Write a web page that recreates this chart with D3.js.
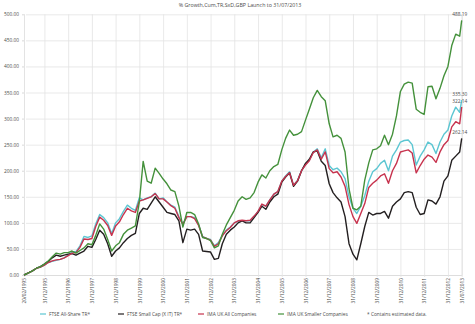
<!DOCTYPE html>
<html>
<head>
<meta charset="utf-8">
<script src="https://cdn.jsdelivr.net/npm/d3@7"></script>
<style>
  body { margin: 0; background: #fff; }
  svg { display: block; }
  text { font-family: "Open Sans", "Liberation Sans", sans-serif; fill: #4a4a4a; }
</style>
</head>
<body>
<svg id="chart" width="475" height="324"></svg>
<script>
// Observation dates (roughly every two months, launch to 31/07/2013)
const dates = [
  "1995-02-20","1995-04-30","1995-06-30","1995-08-31","1995-10-31","1995-12-31",
  "1996-02-28","1996-04-30","1996-06-30","1996-08-31","1996-10-31","1996-12-31",
  "1997-02-28","1997-04-30","1997-06-30","1997-08-31","1997-10-31","1997-12-31",
  "1998-02-28","1998-04-30","1998-06-30","1998-08-31","1998-10-31","1998-12-31",
  "1999-02-28","1999-04-30","1999-06-30","1999-08-31","1999-10-31","1999-12-31",
  "2000-02-28","2000-04-30","2000-06-30","2000-08-31","2000-10-31","2000-12-31",
  "2001-02-28","2001-04-30","2001-06-30","2001-08-31","2001-10-31","2001-12-31",
  "2002-02-28","2002-04-30","2002-06-30","2002-08-31","2002-10-31","2002-12-31",
  "2003-02-28","2003-04-30","2003-06-30","2003-08-31","2003-10-31","2003-12-31",
  "2004-02-28","2004-04-30","2004-06-30","2004-08-31","2004-10-31","2004-12-31",
  "2005-02-28","2005-04-30","2005-06-30","2005-08-31","2005-10-31","2005-12-31",
  "2006-02-28","2006-04-30","2006-06-30","2006-08-31","2006-10-31","2006-12-31",
  "2007-02-28","2007-04-30","2007-06-30","2007-08-31","2007-10-31","2007-12-31",
  "2008-02-28","2008-04-30","2008-06-30","2008-08-31","2008-10-31","2008-12-31",
  "2009-02-28","2009-04-30","2009-06-30","2009-08-31","2009-10-31","2009-12-31",
  "2010-02-28","2010-04-30","2010-06-30","2010-08-31","2010-10-31","2010-12-31",
  "2011-02-28","2011-04-30","2011-06-30","2011-08-31","2011-10-31","2011-12-31",
  "2012-02-28","2012-04-30","2012-06-30","2012-08-31","2012-10-31","2012-12-31",
  "2013-02-28","2013-04-30","2013-06-30","2013-07-31"
];

// Cumulative % growth, total return, GBP
const ftseAllShare = [
  0,4,8,13,15,19,
  24,26,28,30,33,38,
  44,45,56,74,72,75,
  98,116,110,100,79,100,
  108,122,134,128,124,148,
  144,148,150,157,146,148,
  140,134,130,112,98,112,
  112,110,96,74,70,68,
  56,62,76,86,92,100,
  103,104,104,104,112,122,
  135,132,144,155,160,180,
  190,198,172,182,200,212,
  220,236,242,225,242,210,
  202,205,198,185,150,128,
  118,132,152,180,198,204,
  214,220,200,228,240,255,
  258,259,250,211,228,240,
  255,250,233,255,270,278,
  305,322,312,335.30
];
const ftseSmallCap = [
  0,4,8,13,16,21,
  26,33,38,36,38,40,
  41,38,42,46,55,53,
  68,86,78,60,36,46,
  52,62,70,76,80,118,
  128,126,138,150,140,130,
  120,118,116,104,62,88,
  86,88,78,46,45,44,
  30,32,60,78,86,92,
  100,104,100,100,110,120,
  132,126,140,150,155,178,
  188,196,170,180,200,214,
  222,236,238,218,210,175,
  158,148,140,112,60,40,
  29,60,93,120,115,118,
  118,122,109,132,140,146,
  158,160,158,130,116,118,
  144,142,136,150,180,190,
  220,228,236,262.14
];
const imaAllCompanies = [
  0,4,8,13,15,19,
  24,27,29,30,33,37,
  42,43,53,69,68,70,
  93,111,105,95,76,94,
  102,116,128,123,120,142,
  144,147,150,156,146,146,
  140,133,128,110,97,112,
  112,108,95,73,70,67,
  55,60,75,85,91,100,
  104,105,104,105,113,122,
  136,132,144,155,160,180,
  189,196,172,181,200,211,
  219,235,240,222,236,204,
  196,198,188,170,135,112,
  99,118,137,168,176,182,
  190,194,176,200,214,236,
  238,240,234,196,210,222,
  230,226,216,236,250,258,
  284,294,290,322.14
];
const imaSmallerCompanies = [
  0,4,8,13,16,21,
  27,35,42,40,43,43,
  46,42,47,52,60,58,
  76,98,88,68,46,56,
  62,78,86,90,94,140,
  218,180,176,205,195,184,
  175,163,160,132,92,120,
  120,116,98,72,70,66,
  52,56,78,96,110,124,
  142,150,145,148,158,178,
  192,186,200,208,212,240,
  262,278,268,270,275,297,
  318,340,354,342,334,290,
  265,268,262,236,165,128,
  125,132,182,215,240,242,
  248,268,250,270,305,352,
  366,370,368,318,312,308,
  361,362,338,358,382,400,
  440,462,458,488.19
];

const seriesNames = ["FTSE All-Share TR*", "FTSE Small Cap (X IT) TR*", "IMA UK All Companies", "IMA UK Smaller Companies"];
const seriesColors = ["#5cc6d2", "#231f20", "#c7334e", "#44913b"];
const seriesValues = [ftseAllShare, ftseSmallCap, imaAllCompanies, imaSmallerCompanies];

const xTickDates = [
  "1995-02-20","1995-12-31","1996-12-31","1997-12-31","1998-12-31","1999-12-31",
  "2000-12-31","2001-12-31","2002-12-31","2003-12-31","2004-12-31","2005-12-31",
  "2006-12-31","2007-12-31","2008-12-31","2009-12-31","2010-12-31","2011-12-31",
  "2012-12-31","2013-07-31"
];
const yTicks = [0, 50, 100, 150, 200, 250, 300, 350, 400, 450, 500];
const titleText = "% Growth,Cum,TR,SxD,GBP Launch to 31/07/2013";
const footnote = "* Contains estimated data.";

const parse = d3.timeParse("%Y-%m-%d");
const fmtDate = d3.timeFormat("%d/%m/%Y");
const fmtVal = d3.format(".2f");
const when = dates.map(parse);

const svg = d3.select("#chart");
const m = { left: 24, right: 461.7, top: 14.3, bottom: 275 };

const x = d3.scaleTime()
  .domain([parse(xTickDates[0]), parse(xTickDates[xTickDates.length - 1])])
  .range([m.left, m.right]);
const y = d3.scaleLinear().domain([0, 500]).range([m.bottom, m.top]);

// title
svg.append("text")
  .attr("x", 240).attr("y", 6.5)
  .attr("text-anchor", "middle")
  .style("font-size", "5.3px")
  .text(titleText);

// horizontal grid + y labels
const yAxis = svg.append("g")
  .attr("transform", `translate(${m.left},0)`)
  .call(d3.axisLeft(y).tickValues(yTicks).tickFormat(fmtVal)
    .tickSize(-(m.right - m.left)).tickPadding(5));
yAxis.select(".domain").remove();
yAxis.selectAll(".tick line").attr("stroke", "#e3e3e3").attr("stroke-width", 0.8)
  .attr("x1", 2);
yAxis.selectAll(".tick line").clone().attr("x1", -2).attr("x2", 0).attr("stroke", "#cfcfcf");
yAxis.selectAll("text").style("font-size", "4.8px").attr("fill", "#4a4a4a");

// vertical grid + rotated date labels
const xAxis = svg.append("g")
  .attr("transform", `translate(0,${m.bottom})`)
  .call(d3.axisBottom(x).tickValues(xTickDates.map(parse)).tickFormat(fmtDate)
    .tickSize(-(m.bottom - m.top)).tickPadding(3));
xAxis.select(".domain").attr("stroke", "#d9d9d9").attr("stroke-width", 0.8);
xAxis.selectAll(".tick line").attr("stroke", "#e3e3e3").attr("stroke-width", 0.8).attr("y1", 2);
xAxis.selectAll("text")
  .style("font-size", "4.8px").attr("fill", "#4a4a4a")
  .attr("text-anchor", "end")
  .attr("transform", "rotate(-90)")
  .attr("x", -3).attr("y", 0).attr("dy", "0.35em");

// series lines
const line = d3.line()
  .x((d, i) => x(when[i]))
  .y(d => y(d));

seriesValues.forEach((vals, k) => {
  svg.append("path")
    .datum(vals)
    .attr("fill", "none")
    .attr("stroke", seriesColors[k])
    .attr("stroke-width", 1.4)
    .attr("stroke-linejoin", "round")
    .attr("d", line);
});

// end-of-period value labels
const last = when.length - 1;
seriesValues.forEach((vals, k) => {
  svg.append("text")
    .attr("x", x(when[last]) - 2)
    .attr("y", y(vals[last]) - 4)
    .attr("text-anchor", "middle")
    .style("font-size", "4.8px")
    .text(fmtVal(vals[last]));
});

// legend
const legendY = 314;
const legendX = [40, 118, 198, 278];
seriesNames.forEach((name, k) => {
  svg.append("line")
    .attr("x1", legendX[k]).attr("x2", legendX[k] + 6)
    .attr("y1", legendY).attr("y2", legendY)
    .attr("stroke", seriesColors[k]).attr("stroke-width", 1.2);
  svg.append("text")
    .attr("x", legendX[k] + 9).attr("y", legendY).attr("dy", "0.35em")
    .style("font-size", "4.8px")
    .text(name);
});
svg.append("text")
  .attr("x", 367).attr("y", legendY).attr("dy", "0.35em")
  .style("font-size", "4.8px")
  .text(footnote);
</script>
</body>
</html>
